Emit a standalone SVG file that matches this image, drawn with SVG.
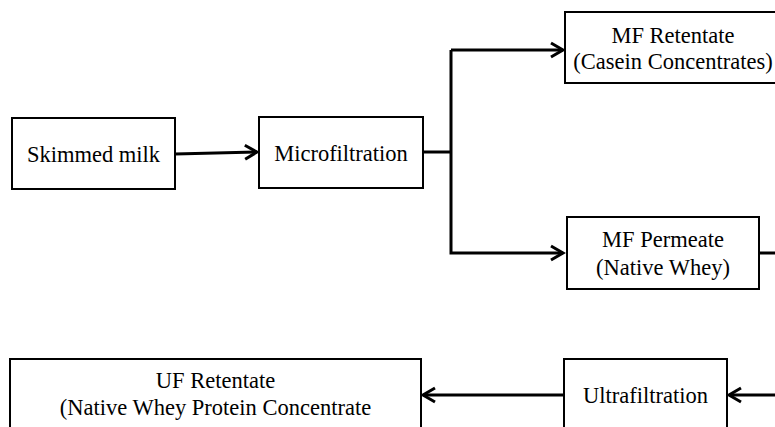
<svg xmlns="http://www.w3.org/2000/svg" width="775" height="427" viewBox="0 0 775 427">
<style>
.box{fill:#fff;stroke:#000;stroke-width:2}
.t{font-family:"Liberation Serif","Times New Roman",serif;font-size:22.5px;fill:#000;text-anchor:middle}
.c{fill:none;stroke:#000;stroke-width:3}
</style>
<defs>
<marker id="ah" markerUnits="userSpaceOnUse" markerWidth="20" markerHeight="20" viewBox="-14 -10 16 20" refX="0" refY="0" orient="auto">
<path d="M-12,-7 L0,0 L-12,7" fill="none" stroke="#000" stroke-width="3"/>
</marker>
</defs>
<rect width="775" height="427" fill="#fff"/>
<g id="connectors">
<path class="c" d="M175,154 L257,152" marker-end="url(#ah)"/>
<path class="c" d="M423,152 L451,152"/>
<path class="c" d="M451,50 L451,253 L563,253" marker-end="url(#ah)"/>
<path class="c" d="M451,50 L563,50" marker-end="url(#ah)"/>
<path class="c" d="M759,253 L776,253"/>
<path class="c" d="M776,395 L729,395" marker-end="url(#ah)"/>
<path class="c" d="M564,395 L423,395" marker-end="url(#ah)"/>
</g>
<g id="skimmed">
<rect class="box" x="12" y="118" width="163" height="71"/>
<text class="t" x="93.5" y="162">Skimmed milk</text>
</g>
<g id="microfiltration">
<rect class="box" x="259" y="117" width="164" height="71"/>
<text class="t" x="341" y="161">Microfiltration</text>
</g>
<g id="mf-retentate">
<rect class="box" x="565" y="12" width="211" height="71"/>
<text class="t" x="673" y="43">MF Retentate</text>
<text class="t" x="673" y="69">(Casein Concentrates)</text>
</g>
<g id="mf-permeate">
<rect class="box" x="567" y="217" width="192" height="72"/>
<text class="t" x="663" y="247">MF Permeate</text>
<text class="t" x="663" y="275">(Native Whey)</text>
</g>
<g id="ultrafiltration">
<rect class="box" x="564" y="359" width="163" height="80"/>
<text class="t" x="645.5" y="403">Ultrafiltration</text>
</g>
<g id="uf-retentate">
<rect class="box" x="10" y="359" width="411" height="80"/>
<text class="t" x="215.5" y="388">UF Retentate</text>
<text class="t" x="215.5" y="415">(Native Whey Protein Concentrate</text>
</g>
</svg>
